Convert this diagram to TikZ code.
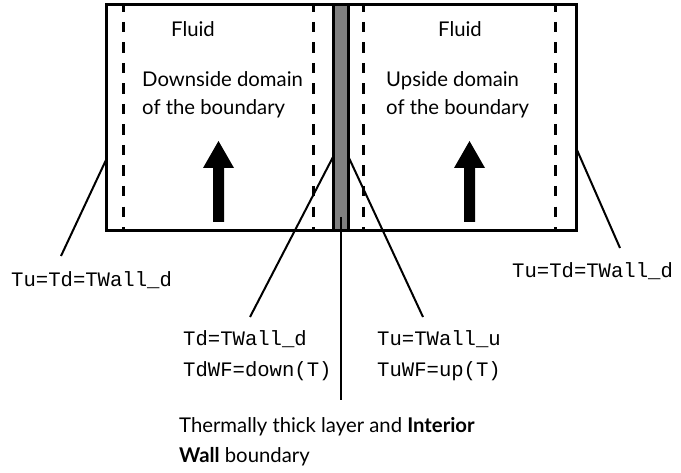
\documentclass[tikz,border=0pt]{standalone}
\usepackage{fontspec}
\setmainfont{Lato}
\newfontfamily\monofont{Liberation Mono}
\begin{document}
\begin{tikzpicture}[x=1bp,y=-1bp,
  frame/.style={line width=3bp},
  dashline/.style={line width=3bp, dash pattern=on 10.5bp off 10bp, dash phase=3.5bp},
  conn/.style={line width=2bp},
  sanslbl/.style={inner sep=0pt, font=\fontsize{20.3bp}{24bp}\selectfont},
  monolbl/.style={inner sep=0pt, font=\monofont\fontsize{20.6bp}{24bp}\selectfont}]
\useasboundingbox (0,0) rectangle (681,473);
% boxes
\draw[frame] (106,5) rectangle (576,231);
\draw[frame, fill=black!50] (333,5) rectangle (348,231);
% dashed lines
\foreach \x in {123,313,363,555} \draw[dashline] (\x,5) -- (\x,231);
% arrows
\foreach \c in {218.5,469.5}
  \fill (\c-5.5,222) -- (\c-5.5,168) -- (\c-15.5,168) -- (\c,141) -- (\c+15.5,168) -- (\c+5.5,168) -- (\c+5.5,222) -- cycle;
% texts
\node[sanslbl, anchor=base] (fl) at (193,37) {Fluid};
\node[sanslbl, anchor=base] (fr) at (460,37) {Fluid};
\node[sanslbl, anchor=base west] (d1) at (142,87) {Downside domain};
\node[sanslbl, anchor=base west] (d2) at (142,115) {of the boundary};
\node[sanslbl, anchor=base west] (u1) at (386,87) {Upside domain};
\node[sanslbl, anchor=base west] (u2) at (386,115) {of the boundary};
\node[monolbl, anchor=base west] (lblL) at (11,287) {Tu=Td=TWall\_d};
\node[monolbl, anchor=base west] (lblR) at (512,278) {Tu=Td=TWall\_d};
\node[monolbl, anchor=base west] (td1) at (183,345) {Td=TWall\_d};
\node[monolbl, anchor=base west] (td2) at (183,376) {TdWF=down(T)};
\node[monolbl, anchor=base west] (tu1) at (377,345) {Tu=TWall\_u};
\node[monolbl, anchor=base west] (tu2) at (377,376) {TuWF=up(T)};
\node[sanslbl, anchor=base west] (b1) at (179,432) {Thermally thick layer and \textbf{Interior}};
\node[sanslbl, anchor=base west] (b2) at (179,462) {\textbf{Wall} boundary};
% connector end points
\coordinate (pL) at (106,160);
\coordinate (eL) at (61,256);
\coordinate (pR) at (577,150);
\coordinate (eR) at (620,248);
\coordinate (pTd) at (333,157);
\coordinate (eTd) at (250,317);
\coordinate (pTu) at (349,158);
\coordinate (eTu) at (423,317);
\coordinate (pW) at (341,217);
\coordinate (eW) at (341,400);
\draw[conn] (pL) -- (eL);
\draw[conn] (pR) -- (eR);
\draw[conn] (pTd) -- (eTd);
\draw[conn] (pTu) -- (eTu);
\draw[conn] (pW) -- (eW);
\end{tikzpicture}
\end{document}
